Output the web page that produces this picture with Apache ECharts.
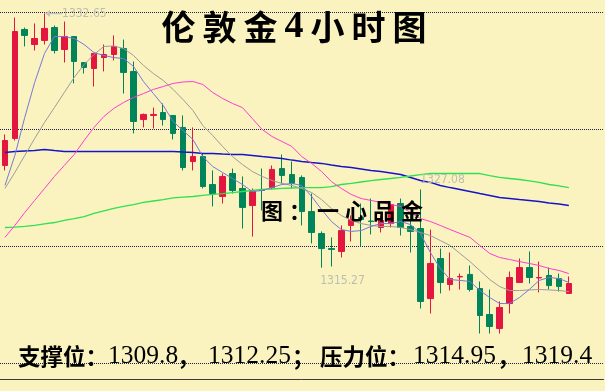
<!DOCTYPE html>
<html><head><meta charset="utf-8">
<script src="https://cdn.jsdelivr.net/npm/echarts@6/dist/echarts.min.js"></script>
<style>html,body{margin:0;padding:0;background:#faf3c0;}#c{width:605px;height:391px;}</style>
</head><body><div id="c"></div>
<script>
// 4-hour bars (last 3 slots empty space on the right)
const categories = ['1','2','3','4','5','6','7','8','9','10','11','12','13','14','15','16','17','18','19','20',
  '21','22','23','24','25','26','27','28','29','30','31','32','33','34','35','36','37','38','39','40',
  '41','42','43','44','45','46','47','48','49','50','51','52','53','54','55','56','57','58','59','60','61'];

const opens = [1322.26,1324.11,1331.56,1330.53,1330.81,1331.69,1330.19,1331.08,1329.30,1328.89,
  1329.64,1329.85,1330.26,1328.69,1325.40,1325.68,1325.88,1325.68,1324.86,1322.53,
  1322.87,1320.96,1320.14,1321.71,1320.69,1319.52,1320.62,1320.75,1322.05,1321.64,
  1321.44,1319.11,1317.61,1316.58,1316.38,1318.16,1318.70,1318.46,1318.02,1318.29,
  1319.66,1318.09,1317.95,1313.16,1315.90,1314.12,1314.64,1314.81,1313.85,1312.07,
  1311.11,1312.82,1314.26,1315.28,1314.57,1314.74,1314.53,1313.51];
const closes = [1323.97,1331.42,1331.15,1330.94,1331.63,1330.12,1331.08,1329.37,1328.96,1329.92,
  1329.85,1330.40,1328.62,1325.27,1325.75,1325.75,1325.40,1324.45,1322.12,1322.87,
  1320.82,1320.34,1321.51,1320.55,1319.39,1320.48,1320.55,1321.99,1321.58,1321.03,
  1319.11,1317.68,1316.58,1316.52,1317.81,1318.57,1318.57,1318.43,1318.50,1319.59,
  1318.02,1317.75,1312.96,1315.56,1314.26,1314.53,1314.67,1313.78,1312.00,1311.25,
  1312.55,1314.60,1315.28,1314.60,1314.60,1314.05,1313.99,1314.19];
const lows = [1321.92,1323.97,1330.40,1330.12,1330.53,1329.92,1329.30,1327.87,1328.55,1327.66,
  1328.69,1329.44,1327.18,1324.45,1324.86,1324.79,1324.99,1324.04,1321.92,1321.92,
  1320.69,1319.46,1319.66,1320.34,1317.95,1317.40,1319.18,1320.62,1321.03,1320.69,
  1318.16,1316.93,1315.27,1315.35,1315.97,1317.06,1316.72,1317.54,1317.68,1318.02,
  1317.47,1316.31,1312.48,1312.14,1313.51,1313.71,1313.78,1313.64,1310.77,1310.77,
  1310.77,1312.14,1314.26,1314.19,1313.58,1313.78,1313.64,1313.51];
const highs = [1324.38,1332.38,1331.69,1331.97,1332.65,1331.83,1332.10,1331.08,1329.30,1329.92,
  1330.53,1331.15,1330.87,1329.37,1325.81,1326.22,1326.50,1325.68,1325.68,1324.86,
  1323.08,1321.92,1321.71,1322.05,1321.51,1320.69,1322.05,1322.26,1323.01,1322.53,
  1321.58,1320.34,1317.75,1317.34,1318.16,1318.84,1319.66,1320.00,1318.84,1319.66,
  1320.00,1318.98,1320.62,1317.88,1316.58,1316.31,1314.87,1315.42,1314.33,1313.78,
  1312.96,1315.01,1315.90,1316.38,1315.69,1315.28,1314.87,1314.67];

// moving average lines
const maLavender = [1320.89,1322.94,1325.54,1327.93,1329.92,1331.08,1331.08,1330.94,1330.53,1329.98,
  1329.78,1329.64,1329.57,1329.03,1328.00,1327.18,1326.36,1325.27,1324.65,1324.04,
  1322.87,1322.19,1321.78,1321.37,1320.96,1320.48,1320.55,1320.75,1320.96,1321.03,
  1320.89,1320.14,1319.25,1318.43,1317.88,1317.75,1317.81,1318.09,1318.29,1318.29,
  1318.43,1318.22,1317.61,1316.31,1315.22,1314.46,1314.40,1314.33,1313.71,1313.23,
  1312.82,1312.82,1313.23,1313.78,1314.40,1314.60,1314.53,1314.26];
const maGrey = [1320.69,1321.78,1322.94,1324.10,1325.20,1326.22,1327.25,1328.28,1329.16,1329.85,
  1330.40,1330.43,1330.26,1329.78,1329.10,1328.55,1328.07,1327.46,1326.77,1326.02,
  1324.99,1324.31,1323.56,1322.87,1322.33,1321.85,1321.51,1321.23,1321.03,1320.89,
  1320.69,1320.41,1319.93,1319.32,1318.84,1318.50,1318.29,1318.16,1318.09,1318.09,
  1318.02,1317.88,1317.68,1317.47,1317.13,1316.79,1316.24,1315.69,1315.08,1314.46,
  1313.98,1313.71,1313.71,1313.75,1313.78,1313.75,1313.71,1313.64];
const maPink = [1317.34,1318.16,1319.04,1319.87,1320.69,1321.51,1322.26,1323.01,1323.97,1324.86,
  1325.61,1326.16,1326.57,1326.91,1327.18,1327.46,1327.66,1327.87,1327.97,1328.00,
  1327.80,1327.25,1326.84,1326.50,1326.22,1325.47,1324.72,1324.24,1323.90,1323.56,
  1322.87,1322.40,1321.85,1321.16,1320.69,1320.28,1320.00,1319.87,1319.73,1319.59,
  1319.46,1319.04,1318.63,1318.43,1318.16,1317.88,1317.61,1317.34,1316.79,1316.24,
  1315.97,1315.83,1315.69,1315.56,1315.42,1315.22,1315.08,1314.87];
const maGreen = [1318.02,1318.05,1318.09,1318.16,1318.26,1318.36,1318.50,1318.63,1318.77,1318.98,
  1319.15,1319.32,1319.46,1319.59,1319.73,1319.83,1319.93,1320.04,1320.10,1320.14,
  1320.21,1320.28,1320.34,1320.41,1320.48,1320.55,1320.62,1320.65,1320.69,1320.72,
  1320.75,1320.75,1320.75,1320.82,1320.96,1321.03,1321.13,1321.23,1321.30,1321.37,
  1321.44,1321.54,1321.64,1321.71,1321.71,1321.71,1321.71,1321.71,1321.71,1321.57,
  1321.44,1321.37,1321.30,1321.20,1321.10,1320.96,1320.86,1320.75];
const maBlue = [1323.15,1323.22,1323.25,1323.28,1323.35,1323.28,1323.22,1323.22,1323.22,1323.22,
  1323.22,1323.22,1323.22,1323.22,1323.22,1323.22,1323.22,1323.22,1323.18,1323.15,
  1323.08,1323.08,1323.04,1323.01,1323.01,1322.94,1322.87,1322.81,1322.74,1322.63,
  1322.53,1322.46,1322.40,1322.29,1322.19,1322.12,1322.02,1321.92,1321.85,1321.75,
  1321.64,1321.44,1321.23,1321.10,1320.89,1320.75,1320.62,1320.48,1320.34,1320.21,
  1320.07,1320.00,1319.93,1319.87,1319.80,1319.69,1319.63,1319.52];

// horizontal dotted price levels
const gridLevels = [1308.72, 1316.72, 1324.72, 1332.72];

// price annotations: [bar index, price anchor, text]
const noteHigh = [4, 1332.65, '1332.65'];
const noteLow = [32, 1315.27, '1315.27'];
const noteMid = [42, 1320.62, '1327.08'];

const titleText = ['伦','敦','金','4','小','时','图'];
const markText = ['图','：','一','心','品','金'];
// bottom line: [text, kind]
const levelText = [['支撑位：','c'],['1309.8','n'],['，','c'],['1312.25','n'],['；','c'],
  ['压力位：','c'],['1314.95','n'],['，','c'],['1319.4','n']];

const candles = opens.map((o, i) => [o, closes[i], lows[i], highs[i]]);

const RED = '#e3163f', GREEN = '#00855a';
const labelFont = "'Liberation Sans Narrow','DejaVu Sans Condensed',sans-serif";
const noteLabel = (off) => ({show: true, position: 'inside', offset: off, color: '#bdbdb0',
  fontSize: 12, fontFamily: labelFont});

const slotW = [90, 69, 31, 84, 28, 93, 84, 25, 70];
const bottomRich = {};
levelText.forEach((t, i) => {
  const isNum = t[1] === 'n';
  bottomRich['t' + i] = isNum
    ? {fontFamily: 'Liberation Serif', fontSize: 25.5, fontWeight: 'normal', lineHeight: 30, width: slotW[i], align: 'left', color: '#000', verticalAlign: 'middle'}
    : {fontFamily: 'Noto Sans CJK SC', fontSize: 22.5, fontWeight: 'bold', lineHeight: 30, width: slotW[i], align: 'left', color: '#000', verticalAlign: 'middle'};
});

const chart = echarts.init(document.getElementById('c'), null, {renderer: 'canvas'});
chart.setOption({
  backgroundColor: '#faf3c0',
  animation: false,
  grid: {left: -6.5, top: 12.5, width: 610, height: 351, containLabel: false},
  xAxis: {type: 'category', data: categories, boundaryGap: true, offset: 16,
    axisLine: {show: true, onZero: false, lineStyle: {color: '#3a3a3a', width: 1}},
    axisTick: {show: false}, axisLabel: {show: false}, splitLine: {show: false}},
  yAxis: {type: 'value', min: 1308.72, max: 1332.72, scale: true,
    axisLine: {show: false}, axisTick: {show: false}, axisLabel: {show: false}, splitLine: {show: false}},
  title: [
    {text: titleText.map(c => (c === '4' ? '{d|' : '{a|') + c + '}').join(''),
      left: 158, top: 10, padding: 0,
      textStyle: {rich: {
        a: {fontFamily: 'Noto Sans CJK SC', fontSize: 34, fontWeight: 'bold', width: 41, align: 'center', lineHeight: 34, color: '#000'},
        d: {fontFamily: 'Liberation Serif', fontSize: 38, fontWeight: 'bold', width: 26, align: 'center', lineHeight: 34, color: '#000'}
      }}},
    {text: markText.map(c => '{a|' + c + '}').join(''),
      left: 258, top: 198, padding: 0,
      textStyle: {rich: {
        a: {fontFamily: 'Noto Sans CJK SC', fontSize: 22, fontWeight: 'bold', width: 28, align: 'center', lineHeight: 26, color: '#000'}
      }}},
    {text: levelText.map((t, i) => '{t' + i + '|' + t[0] + '}').join(''),
      left: 18, top: 341, padding: 0,
      textStyle: {rich: bottomRich}}
  ],
  series: [
    {type: 'candlestick', data: candles, barWidth: 6, z: 3,
      itemStyle: {color: RED, color0: GREEN, borderColor: RED, borderColor0: GREEN, borderWidth: 1},
      markLine: {silent: true, z: 1, symbol: ['none', 'none'], label: {show: false},
        lineStyle: {color: '#1e1e50', type: [1, 1], width: 1},
        data: gridLevels.map(v => ({yAxis: v}))},
      markPoint: {silent: true, data: [
        {coord: [categories[noteHigh[0]], noteHigh[1]],
          symbol: 'path://M0,5L7,0L7,4L24,4L24,6L7,6L7,10Z', symbolSize: [17, 7], symbolOffset: [9, 0],
          itemStyle: {color: '#c4c4b8'},
          label: {show: true, position: 'right', distance: 0, formatter: noteHigh[2], color: '#bdbdb0', fontSize: 12, fontFamily: labelFont}},
        {coord: [categories[noteLow[0]], noteLow[1]], symbol: 'rect', symbolSize: 1,
          itemStyle: {color: 'rgba(0,0,0,0)'}, label: Object.assign(noteLabel([21, 13]), {formatter: noteLow[2]})},
        {coord: [categories[noteMid[0]], noteMid[1]], symbol: 'rect', symbolSize: 1,
          itemStyle: {color: 'rgba(0,0,0,0)'}, label: Object.assign(noteLabel([22, -10]), {formatter: noteMid[2]})}
      ]}},
    {type: 'line', data: maBlue, symbol: 'none', silent: true, z: 4, lineStyle: {color: '#1414c8', width: 1.4}},
    {type: 'line', data: maGreen, symbol: 'none', silent: true, z: 4, lineStyle: {color: '#2fe04f', width: 1.3}},
    {type: 'line', data: maPink, symbol: 'none', silent: true, z: 4, lineStyle: {color: '#ff3dd0', width: 1}},
    {type: 'line', data: maGrey, symbol: 'none', silent: true, z: 4, lineStyle: {color: '#9c9c9c', width: 1}},
    {type: 'line', data: maLavender, symbol: 'none', silent: true, z: 4, lineStyle: {color: '#7878d8', width: 1}}
  ]
});
</script>
</body></html>
